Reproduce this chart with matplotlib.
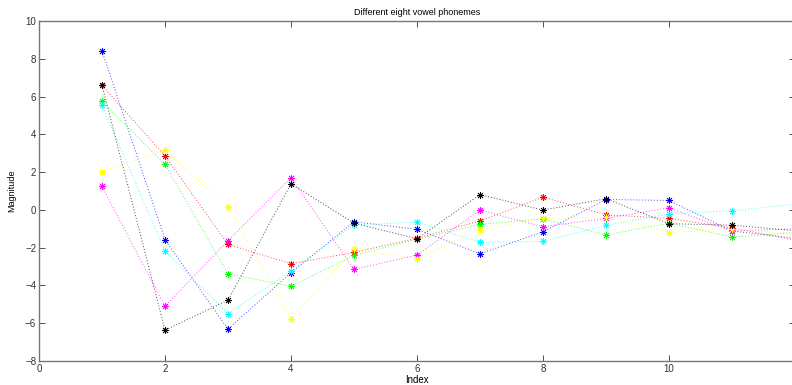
import matplotlib
matplotlib.use('Agg')
import matplotlib.pyplot as plt

idx = [1, 2, 3, 4, 5, 6, 7, 8, 9, 10, 11, 12]

blue = [8.42, -1.58, -6.31, -3.32, -0.63, -1.03, -2.32, -1.16, 0.55, 0.50, -1.12, -1.5]
red = [6.60, 2.86, -1.83, -2.85, -2.25, -1.50, -0.58, 0.67, -0.26, -0.45, -0.95, -1.6]
green = [5.74, 2.41, -3.39, -4.04, -2.41, -1.55, -0.77, -0.47, -1.33, -0.70, -1.44, -1.2]
cyan = [5.53, -2.18, -5.49, -3.25, -0.79, -0.65, -1.72, -1.67, -0.82, -0.21, -0.05, 0.3]
magenta = [1.24, -5.10, -1.63, 1.71, -3.15, -2.39, -0.01, -0.89, -0.45, 0.11, -1.12, -1.0]
yellow = [2.03, 3.15, 0.16, -5.77, -2.09, -2.58, -1.07, -0.45, -0.40, -1.21, -1.0, -1.3]
black = [6.60, -6.37, -4.78, 1.38, -0.70, -1.53, 0.81, -0.01, 0.59, -0.73, -0.81, -1.1]

series = [(blue, '#0000ff'), (red, '#ff0000'), (green, '#00ff00'),
          (cyan, '#00ffff'), (magenta, '#ff00ff'), (yellow, '#ffff00'),
          (black, '#000000')]

plt.rcParams['font.family'] = ['Liberation Sans', 'DejaVu Sans']

fig = plt.figure(figsize=(7.92, 3.85), dpi=100)
ax = fig.add_axes([39/792, 1 - 361/385, 756/792, 340/385])

for vals, c in series:
    # dotted line, then matlab-style '*' marker (plus + cross)
    ax.plot(idx, vals, linestyle=(0, (1, 2)), color=c, linewidth=0.7, alpha=0.7)
    ax.plot(idx, vals, linestyle='none', color=c,
            marker=(8, 2, 0), markersize=5, markeredgewidth=0.6)

ax.set_xlim(0, 12)
ax.set_ylim(-8, 10)
ax.set_xticks([0, 2, 4, 6, 8, 10])
ax.set_yticks(range(-8, 11, 2))
ax.tick_params(direction='in', length=4, width=0.6, labelsize=7,
               colors='#333333', top=True, right=True, pad=2)
for s in ax.spines.values():
    s.set_color('#777777')
    s.set_linewidth(1.0)

ax.set_title('Different eight vowel phonemes', fontsize=6.5, pad=4)
ax.set_xlabel('Index', fontsize=7, labelpad=1)
ax.set_ylabel('Magnitude', fontsize=6.5, labelpad=6)

fig.savefig('out.png', dpi=100)
